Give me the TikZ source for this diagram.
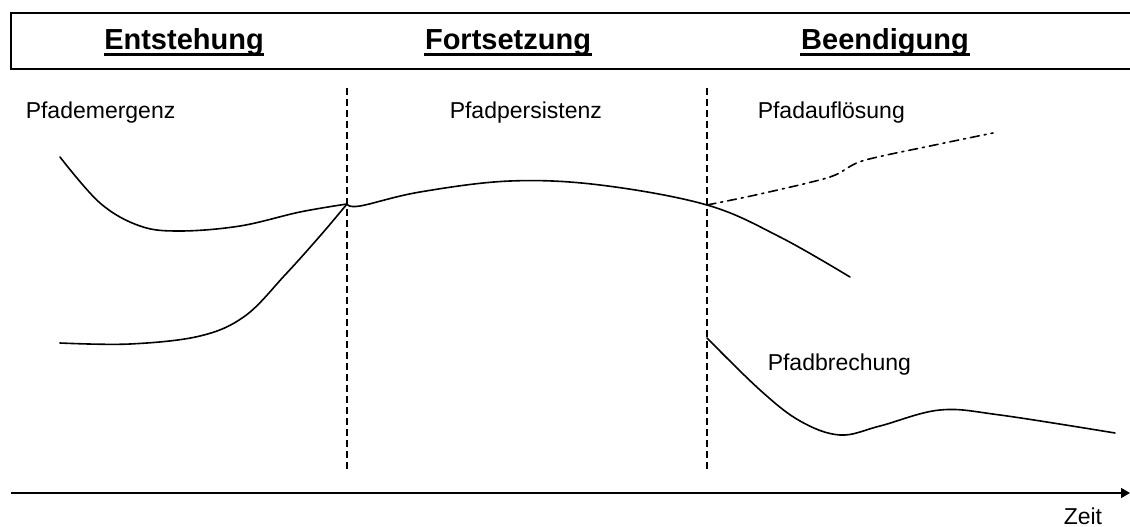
\documentclass[tikz,border=0pt]{standalone}
\usepackage{fontspec}
\setmainfont{Liberation Sans}
\usepackage{tikz}
\usetikzlibrary{
    arrows.meta,
    positioning
}

\begin{document}
\begin{tikzpicture}[x=1pt,y=-1pt,line width=1.5pt]
    \tikzstyle{phase}=[font=\fontsize{29}{34}\selectfont\bfseries, anchor=base, inner sep=0pt]
    \tikzstyle{label}=[font=\fontsize{23}{28}\selectfont, anchor=west, inner sep=0pt]
    \tikzstyle{border}=[dashed, dash pattern=on 7pt off 4pt, line width=1.2pt]
    \tikzstyle{curve}=[line width=1.6pt, line cap=round]
    \tikzstyle{uline}=[line width=3pt]
    \useasboundingbox (0,0) rectangle (1130,527);

    % Kopfzeile
    \draw (1140,13) -- (11,13) -- (11,69) -- (1140,69);
    \node[phase] (E) at (184,50) {Entstehung};
    \node[phase] (F) at (508,50) {Fortsetzung};
    \node[phase] (B) at (885,50) {Beendigung};
    \foreach \n in {E,F,B}
        \draw[uline] ([yshift=-5pt]\n.base west) -- ([yshift=-5pt]\n.base east);

    % Phasengrenzen
    \coordinate (G1) at (347,88);
    \coordinate (G2) at (707,88);
    \draw[border] (G1) -- ++(0,382);
    \draw[border] (G2) -- ++(0,382);

    \node[label] (PE) at (25,113) {Pfademergenz};
    \node[label] (PP) at (449,113) {Pfadpersistenz};
    \node[label] (PA) at (757,113) {Pfadauflösung};
    \node[label] (PB) at (767,365) {Pfadbrechung};

    % Pfade
    \coordinate (J1) at (347,204);
    \coordinate (J2) at (707,205);
    \draw[curve] plot[smooth, tension=0.6] coordinates {(60,157) (100,203) (140,226) (180,231) (240,226) (300,212) (J1)};
    \draw[curve] plot[smooth, tension=0.6] coordinates {(60,343) (130,344) (200,336) (245,316) (285,275) (320,236) (J1)};
    \draw[curve] plot[smooth, tension=0.6] coordinates {(J1) (360,206) (420,192) (510,181) (600,185) (J2) (780,237) (850,277)};
    \draw[curve, dash pattern=on 9pt off 5pt on 2pt off 5pt] plot[smooth, tension=0.5] coordinates {(J2) (760,194) (830,177) (862,161) (930,146) (993,133)};
    \draw[curve] plot[smooth, tension=0.6] coordinates {(707,338) (760,390) (800,421) (840,435) (880,426) (940,410) (1000,415) (1115,433)};

    % Zeitachse
    \draw[-{Triangle[length=9pt,width=10pt]}] (11,493) -- (1130,493);
    \node[label] (Z) at (1063,516) {Zeit};
\end{tikzpicture}
\end{document}
